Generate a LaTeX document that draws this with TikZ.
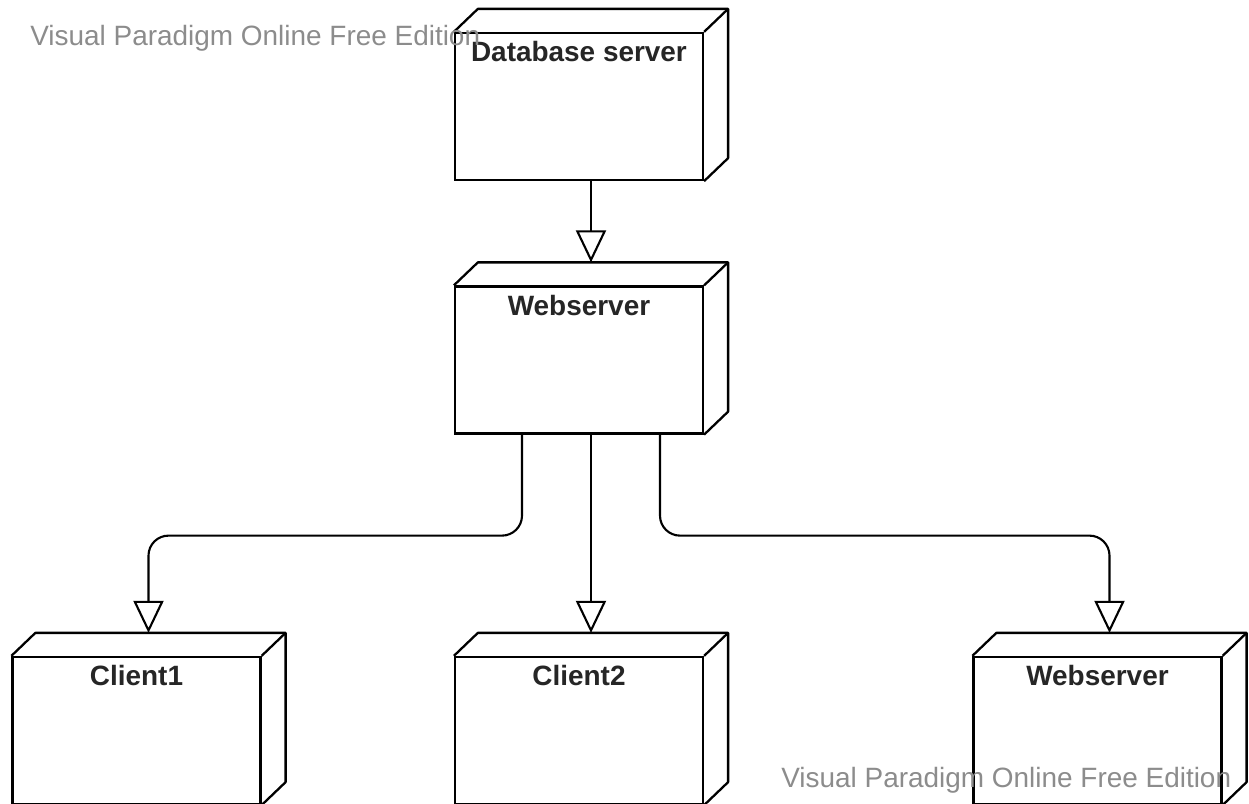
\documentclass[tikz,border=0pt]{standalone}
\usepackage{fontspec}
\setmainfont{Liberation Sans}
\usepackage{xcolor}
\usetikzlibrary{arrows.meta}
\definecolor{wmgray}{RGB}{140,140,140}

\begin{document}
\begin{tikzpicture}[x=0.02cm, y=-0.02cm,
  dnode/.style={draw, line width=1.3pt, fill=white, minimum width=4.96cm,
    minimum height=2.94cm, inner sep=0pt},
  title/.style={font=\fontsize{15.9}{19}\selectfont\bfseries, text=black!85},
  conn/.style={line width=1.2pt, rounded corners=0.4cm,
    -{Triangle[open, length=0.64cm, width=0.6cm]}},
  wm/.style={font=\fontsize{15.9}{19}\selectfont, text=wmgray, anchor=base west,
    inner sep=0pt}
]
\useasboundingbox (0,0) rectangle (1249,804);

\node[dnode, label={[title, anchor=base, yshift=-0.6cm]north:Database server}] (db) at (579,106.5) {};
\node[dnode, label={[title, anchor=base, yshift=-0.6cm]north:Webserver}] (web) at (579,360) {};
\node[dnode, label={[title, anchor=base, yshift=-0.6cm]north:Client1}] (cl1) at (136.5,730.5) {};
\node[dnode, label={[title, anchor=base, yshift=-0.6cm]north:Client2}] (cl2) at (579,730.5) {};
\node[dnode, label={[title, anchor=base, yshift=-0.6cm]north:Webserver}] (web2) at (1097.5,730.5) {};

% depth of the boxes
\foreach \n in {db,web,cl1,cl2,web2}{
  \draw[line width=1.3pt, line join=round] (\n.north west)
    -- ([shift={(24,-23)}]\n.north west) -- ([shift={(24,-23)}]\n.north east)
    -- ([shift={(24,-23)}]\n.south east) -- (\n.south east);
  \draw[line width=1.3pt] (\n.north east) -- ([shift={(24,-23)}]\n.north east);
}

\draw[conn] ([shift={(12,0)}]db.south) -- ([shift={(12,-23)}]web.north);
\draw[conn] ([shift={(-57,0)}]web.south) -- ++(0,101) -| ([shift={(12,-23)}]cl1.north);
\draw[conn] ([shift={(12,0)}]web.south) -- ([shift={(12,-23)}]cl2.north);
\draw[conn] ([shift={(81,0)}]web.south) -- ++(0,101) -| ([shift={(12,-23)}]web2.north);

\node[wm] (wm1) at (30,46) {Visual Paradigm Online Free Edition};
\node[wm] (wm2) at (781,787) {Visual Paradigm Online Free Edition};
\end{tikzpicture}
\end{document}
